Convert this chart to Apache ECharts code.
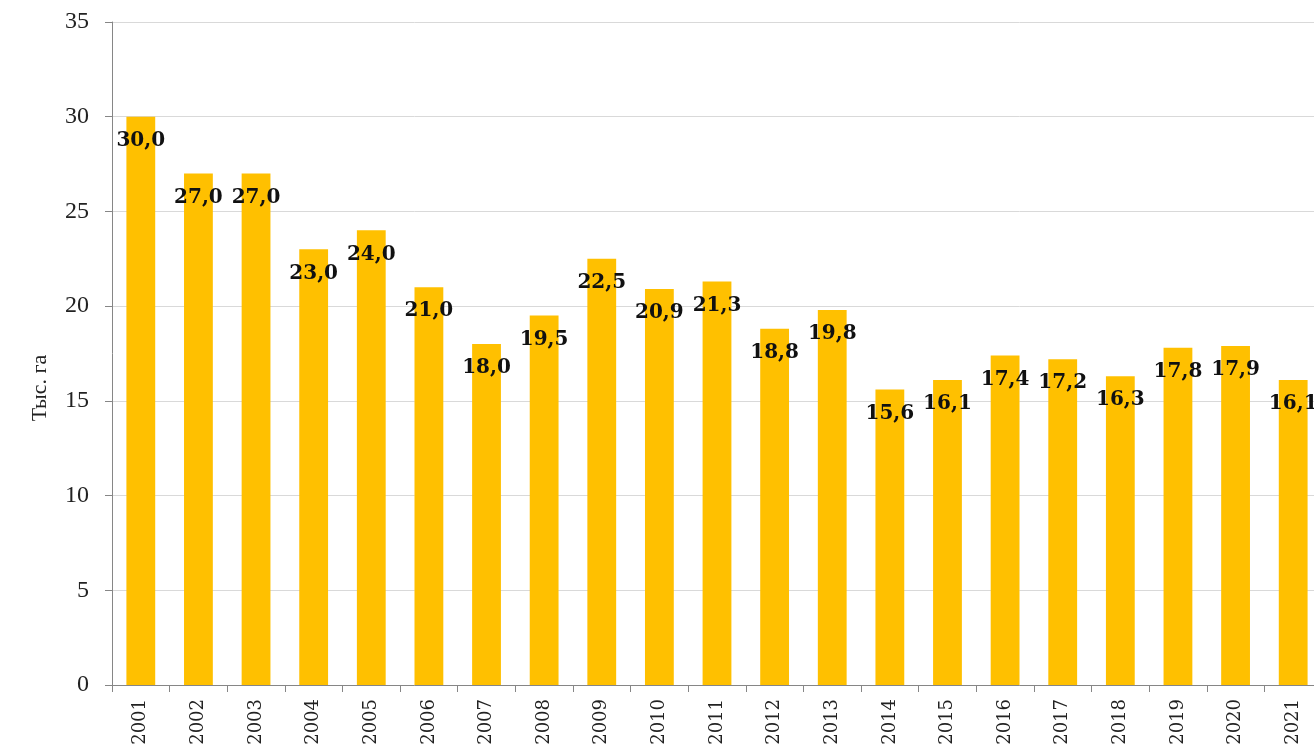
<!DOCTYPE html>
<html>
<head>
<meta charset="utf-8">
<script src="https://cdn.jsdelivr.net/npm/echarts@6/dist/echarts.min.js"></script>
<style>
html,body{margin:0;padding:0;background:#fff;overflow:hidden;}
/* the plot runs slightly past the right edge of the window */
#chart{width:1322px;height:751px;}
</style>
</head>
<body>
<div id="chart"></div>
<script>
// Years on the category axis
const years = ['2001','2002','2003','2004','2005','2006','2007','2008','2009','2010','2011',
  '2012','2013','2014','2015','2016','2017','2018','2019','2020','2021'];
// Area, thousand hectares
const areaValues = [30.0, 27.0, 27.0, 23.0, 24.0, 21.0, 18.0, 19.5, 22.5, 20.9, 21.3,
  18.8, 19.8, 15.6, 16.1, 17.4, 17.2, 16.3, 17.8, 17.9, 16.1];
const yAxisName = 'Тыс. га';

const serif = '"Liberation Serif", "DejaVu Serif", serif';
const wideSerif = '"DejaVu Serif", "Liberation Serif", serif';
const chart = echarts.init(document.getElementById('chart'));
chart.setOption({
  animation: false,
  backgroundColor: '#ffffff',
  grid: { left: 112, right: 0, top: 22, bottom: 66, containLabel: false },
  xAxis: {
    type: 'category',
    data: years,
    axisLine: { lineStyle: { color: '#868686', width: 1 } },
    axisTick: { show: true, length: 7, alignWithLabel: false, lineStyle: { color: '#868686' } },
    axisLabel: { rotate: 90, fontFamily: wideSerif, fontSize: 18, color: '#222', margin: 14 }
  },
  yAxis: {
    type: 'value',
    min: 0, max: 35, interval: 5,
    axisLine: { show: true, lineStyle: { color: '#868686', width: 1 } },
    axisTick: { show: true, length: 7, lineStyle: { color: '#868686' } },
    axisLabel: { fontFamily: serif, fontSize: 24, color: '#222', margin: 23 },
    splitLine: { lineStyle: { color: '#d9d9d9', width: 1 } }
  },
  // Axis title, rotated to read bottom-to-top
  graphic: [{
    type: 'text',
    x: 40, y: 388,
    rotation: Math.PI / 2,
    style: {
      text: yAxisName,
      font: '22px ' + serif,
      fill: '#222',
      align: 'center',
      verticalAlign: 'middle'
    }
  }],
  series: [{
    type: 'bar',
    data: areaValues,
    barWidth: '50%',
    itemStyle: { color: '#FFC000' },
    label: {
      show: true,
      position: 'insideTop',
      distance: 14,
      fontFamily: wideSerif,
      fontWeight: 'bold',
      fontSize: 20,
      color: '#111',
      formatter: p => p.value.toFixed(1).replace('.', ',')
    }
  }]
});
</script>
</body>
</html>
